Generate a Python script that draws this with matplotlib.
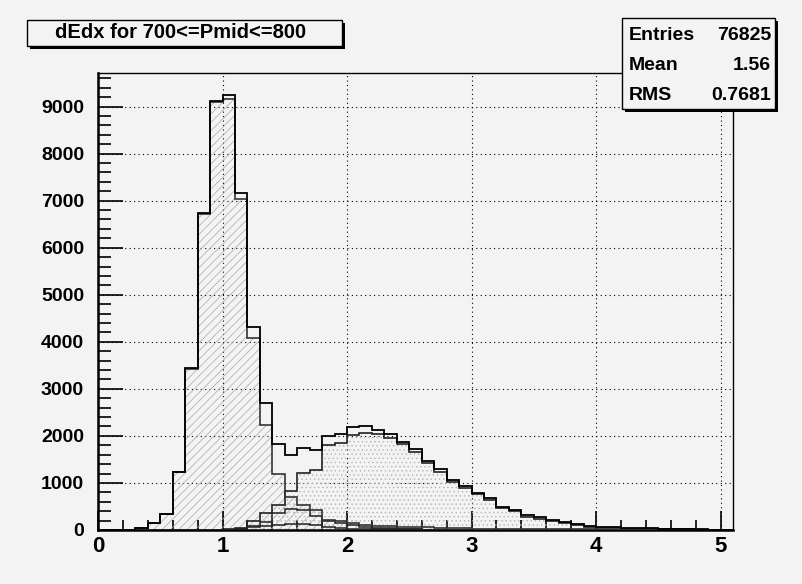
import numpy as np
import matplotlib
matplotlib.use('Agg')
import matplotlib.pyplot as plt
from matplotlib.patches import Rectangle
from matplotlib.ticker import MultipleLocator

plt.rcParams['font.family'] = ['Liberation Sans', 'DejaVu Sans']
plt.rcParams['font.weight'] = 'bold'
plt.rcParams['hatch.linewidth'] = 0.5

# 51 bins of width 0.1 from 0 to 5.1
bin_lo, bin_hi, n_bins = 0.0, 5.1, 51

total = [0, 0, 5, 40, 140, 330, 1240, 3440, 6730, 9120,
         9250, 7160, 4320, 2690, 1820, 1585, 1736, 1701, 2000, 2035,
         2185, 2200, 2130, 2040, 1880, 1715, 1475, 1290, 1063, 935,
         790, 673, 496, 425, 319, 269, 212, 163, 127, 85,
         70, 60, 45, 35, 35, 22, 30, 20, 15, 10, 5]

pions = [0, 0, 5, 40, 140, 330, 1235, 3430, 6720, 9100,
         9160, 7040, 4080, 2230, 1180, 700, 530, 420, 200, 185,
         150, 110, 85, 75, 70, 62, 57, 45, 36, 33,
         30, 30, 28, 25, 22, 20, 18, 15, 13, 12,
         10, 8, 7, 6, 5, 5, 4, 3, 3, 2, 2]

others = [0, 0, 0, 0, 0, 0, 0, 0, 0, 5,
          20, 50, 191, 368, 540, 836, 1204, 1280, 1807, 1850,
          2020, 2069, 2041, 1963, 1828, 1665, 1417, 1240, 1027, 900,
          755, 638, 460, 404, 283, 241, 184, 142, 106, 57,
          45, 40, 30, 25, 25, 15, 22, 12, 10, 6, 3]

kaons = [0, 0, 0, 0, 0, 0, 0, 0, 0, 0,
         5, 20, 90, 177, 355, 440, 420, 300, 210, 140,
         100, 70, 50, 35, 25, 15, 10, 8, 5, 4,
         3, 2, 2, 1, 1, 1, 0, 0, 0, 0,
         0, 0, 0, 0, 0, 0, 0, 0, 0, 0, 0]

electrons = [0, 0, 0, 0, 0, 0, 0, 0, 0, 3,
             10, 30, 60, 90, 110, 120, 120, 110, 57, 35,
             14, 14, 14, 13, 12, 12, 10, 10, 8, 8,
             7, 6, 5, 5, 4, 4, 3, 3, 2, 2,
             2, 1, 1, 1, 1, 1, 0, 0, 0, 0, 0]

title = 'dEdx for 700<=Pmid<=800'
stats = [('Entries', '76825'), ('Mean', '1.56'), ('RMS', '0.7681')]

edges = np.linspace(bin_lo, bin_hi, n_bins + 1)
bg = '#f3f3f3'
W, H = 802, 584

fig = plt.figure(figsize=(W / 100, H / 100), dpi=100, facecolor=bg)
ax = fig.add_axes([98 / W, 1 - 530 / H, (733 - 98) / W, (530 - 73) / H])
ax.set_facecolor(bg)

# filled species
ax.stairs(pions, edges, fill=True, facecolor='none', edgecolor='#a8a8a8',
          hatch='////', linewidth=0, zorder=2)
ax.stairs(others, edges, fill=True, facecolor='none', edgecolor='#b4b4b4',
          hatch='....', linewidth=0, zorder=2)

# outlines
ax.stairs(electrons, edges, color='#222222', linewidth=1.1, zorder=3)
ax.stairs(kaons, edges, color='#222222', linewidth=1.1, zorder=3)
ax.stairs(others, edges, color='#222222', linewidth=1.2, zorder=3)
ax.stairs(pions, edges, color='#333333', linewidth=1.2, zorder=3)
ax.stairs(total, edges, color='black', linewidth=1.3, zorder=4)

ax.set_xlim(bin_lo, bin_hi)
ax.set_ylim(0, max(total) * 1.05)

ax.xaxis.set_major_locator(MultipleLocator(1))
ax.xaxis.set_minor_locator(MultipleLocator(0.2))
ax.yaxis.set_major_locator(MultipleLocator(1000))
ax.yaxis.set_minor_locator(MultipleLocator(200))
ax.tick_params(axis='x', which='major', direction='in', length=14, width=1.2,
               labelsize=16, pad=4)
ax.tick_params(axis='x', which='minor', direction='in', length=7, width=1.2)
ax.tick_params(axis='y', which='major', direction='in', length=18, width=1.2,
               labelsize=14, pad=10)
ax.tick_params(axis='y', which='minor', direction='in', length=9, width=1.2)
for lab in ax.get_xticklabels() + ax.get_yticklabels():
    lab.set_fontweight('bold')

ax.grid(True, which='major', color='black', linestyle=(0, (1, 3)), linewidth=0.8)
ax.set_axisbelow(True)
for side in ['left', 'bottom']:
    ax.spines[side].set_linewidth(1.8)
for side in ['top', 'right']:
    ax.spines[side].set_linewidth(1.0)


def pave(x0, y0, x1, y1):
    # box with ROOT style drop shadow, pixel coords from top-left
    fig.add_artist(Rectangle((x0 / W + 3 / W, 1 - (y1 + 3) / H), (x1 - x0) / W, (y1 - y0) / H,
                             transform=fig.transFigure, facecolor='black', edgecolor='none', zorder=10))
    fig.add_artist(Rectangle((x0 / W, 1 - y1 / H), (x1 - x0) / W, (y1 - y0) / H,
                             transform=fig.transFigure, facecolor=bg, edgecolor='black',
                             linewidth=1, zorder=11))


pave(27, 20, 342, 46)
fig.text(181 / W, 1 - 33 / H, title, ha='center', va='center', fontsize=14.5,
         fontweight='bold', zorder=12)

pave(622, 18, 775, 109)
for i, (name, val) in enumerate(stats):
    y = 1 - (35 + 30 * i) / H
    fig.text(629 / W, y, name, ha='left', va='center', fontsize=14, fontweight='bold', zorder=12)
    fig.text(771 / W, y, val, ha='right', va='center', fontsize=14, fontweight='bold', zorder=12)

fig.savefig('out.png', dpi=100, facecolor=bg)
